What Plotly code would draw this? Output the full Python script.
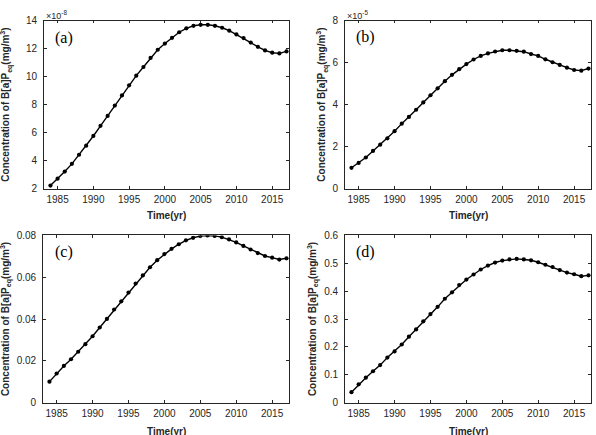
import plotly.graph_objects as go

years = list(range(1984, 2018))

# (a) values in units of 1e-8 mg/m^3
conc_a = [2.23, 2.72, 3.23, 3.78, 4.43, 5.08, 5.77, 6.49, 7.20, 7.94, 8.66, 9.38,
          10.07, 10.69, 11.34, 11.92, 12.36, 12.77, 13.17, 13.45, 13.63, 13.70,
          13.70, 13.63, 13.49, 13.28, 13.01, 12.75, 12.43, 12.13, 11.87, 11.71,
          11.66, 11.80]
# (b) values in units of 1e-5 mg/m^3
conc_b = [1.00, 1.23, 1.49, 1.80, 2.10, 2.40, 2.74, 3.10, 3.42, 3.76, 4.11, 4.45,
          4.78, 5.12, 5.42, 5.69, 5.93, 6.15, 6.32, 6.44, 6.53, 6.59, 6.59, 6.56,
          6.52, 6.41, 6.32, 6.16, 6.02, 5.89, 5.76, 5.65, 5.62, 5.72]
# (c) mg/m^3
conc_c = [0.0101, 0.0140, 0.0176, 0.0208, 0.0244, 0.0280, 0.0318, 0.0360, 0.0401,
          0.0446, 0.0485, 0.0527, 0.0570, 0.0609, 0.0648, 0.0682, 0.0711, 0.0736,
          0.0758, 0.0777, 0.0789, 0.0797, 0.0800, 0.0798, 0.0792, 0.0781, 0.0767,
          0.0750, 0.0733, 0.0716, 0.0702, 0.0694, 0.0685, 0.0691]
# (d) mg/m^3
conc_d = [0.038, 0.066, 0.090, 0.113, 0.135, 0.162, 0.184, 0.209, 0.237, 0.263,
          0.292, 0.318, 0.344, 0.373, 0.396, 0.422, 0.442, 0.460, 0.478, 0.492,
          0.503, 0.510, 0.514, 0.516, 0.514, 0.511, 0.504, 0.495, 0.487, 0.476,
          0.467, 0.461, 0.454, 0.457]

panel_labels = ["(a)", "(b)", "(c)", "(d)"]
exponents = ["\u00d710<sup>-8</sup>", "\u00d710<sup>-5</sup>", None, None]
x_ticks = [1985, 1990, 1995, 2000, 2005, 2010, 2015]
y_ticks = [
    [2, 4, 6, 8, 10, 12, 14],
    [0, 2, 4, 6, 8],
    [0, 0.02, 0.04, 0.06, 0.08],
    [0, 0.1, 0.2, 0.3, 0.4, 0.5, 0.6],
]
y_ranges = [[2, 14], [0, 8], [0, 0.08], [0, 0.6]]
series = [conc_a, conc_b, conc_c, conc_d]

W, H = 596, 435
# plot area pixel boxes: left, right, top, bottom
boxes = [(44, 289, 15, 188), (345, 591, 15, 188),
         (43, 289, 236, 408), (345, 591, 236, 408)]
ytitle_x = [6, 322, 6, 313]
xtitle_y = [215, 215, 438, 438]
label_pos = [(63.5, 32.5), (365.5, 32), (64, 253), (365.5, 253)]

AX = "#262626"
fig = go.Figure()
annotations = []
for i in range(4):
    n = "" if i == 0 else str(i + 1)
    l, r, t, b = boxes[i]
    fig.add_trace(go.Scatter(
        x=years, y=series[i], mode="lines+markers",
        line=dict(color="black", width=1.4),
        marker=dict(color="black", size=4.2, symbol="circle"),
        xaxis="x" + n, yaxis="y" + n, showlegend=False))
    common = dict(showline=True, linecolor=AX, linewidth=0.8, mirror="ticks",
                  ticks="inside", ticklen=3, tickcolor=AX, tickwidth=0.8,
                  showgrid=False, zeroline=False,
                  tickfont=dict(family="Liberation Sans, Arial", size=10, color=AX))
    fig.layout["xaxis" + n] = dict(
        domain=[l / W, r / W], anchor="y" + n, range=[1983.1, 2017.35],
        tickvals=x_ticks, ticklabelstandoff=1, **common)
    fig.layout["yaxis" + n] = dict(
        domain=[1 - b / H, 1 - t / H], anchor="x" + n, range=y_ranges[i],
        tickvals=y_ticks[i], ticklabelstandoff=4, **common)
    # y title
    annotations.append(dict(
        xref="paper", yref="paper", x=ytitle_x[i] / W, y=1 - (t + b) / 2 / H,
        text="Concentration of B[a]P<sub>eq</sub>(mg/m<sup>3</sup>)",
        textangle=-90, showarrow=False, xanchor="center", yanchor="middle",
        font=dict(family="Liberation Sans, Arial", size=10, color=AX, weight="bold")))
    # x title
    annotations.append(dict(
        xref="paper", yref="paper", x=(l + r) / 2 / W, y=1 - xtitle_y[i] / H,
        text="<b>Time(yr)</b>", showarrow=False, xanchor="center", yanchor="middle",
        font=dict(family="Liberation Sans, Arial", size=10, color=AX)))
    # panel label
    lx, ly = label_pos[i]
    annotations.append(dict(
        xref="paper", yref="paper", x=lx / W, y=1 - ly / H,
        text=panel_labels[i], showarrow=False, xanchor="center", yanchor="middle",
        font=dict(family="Liberation Serif, Times New Roman", size=16, color="black")))
    if exponents[i]:
        annotations.append(dict(
            xref="paper", yref="paper", x=l / W, y=1 - 9 / H,
            text=exponents[i], showarrow=False, xanchor="left", yanchor="middle",
            font=dict(family="Liberation Sans, Arial", size=9, color=AX)))

fig.update_layout(
    width=W, height=H, margin=dict(l=0, r=0, t=0, b=0),
    paper_bgcolor="white", plot_bgcolor="white",
    annotations=annotations)
fig.write_html("out.html")
